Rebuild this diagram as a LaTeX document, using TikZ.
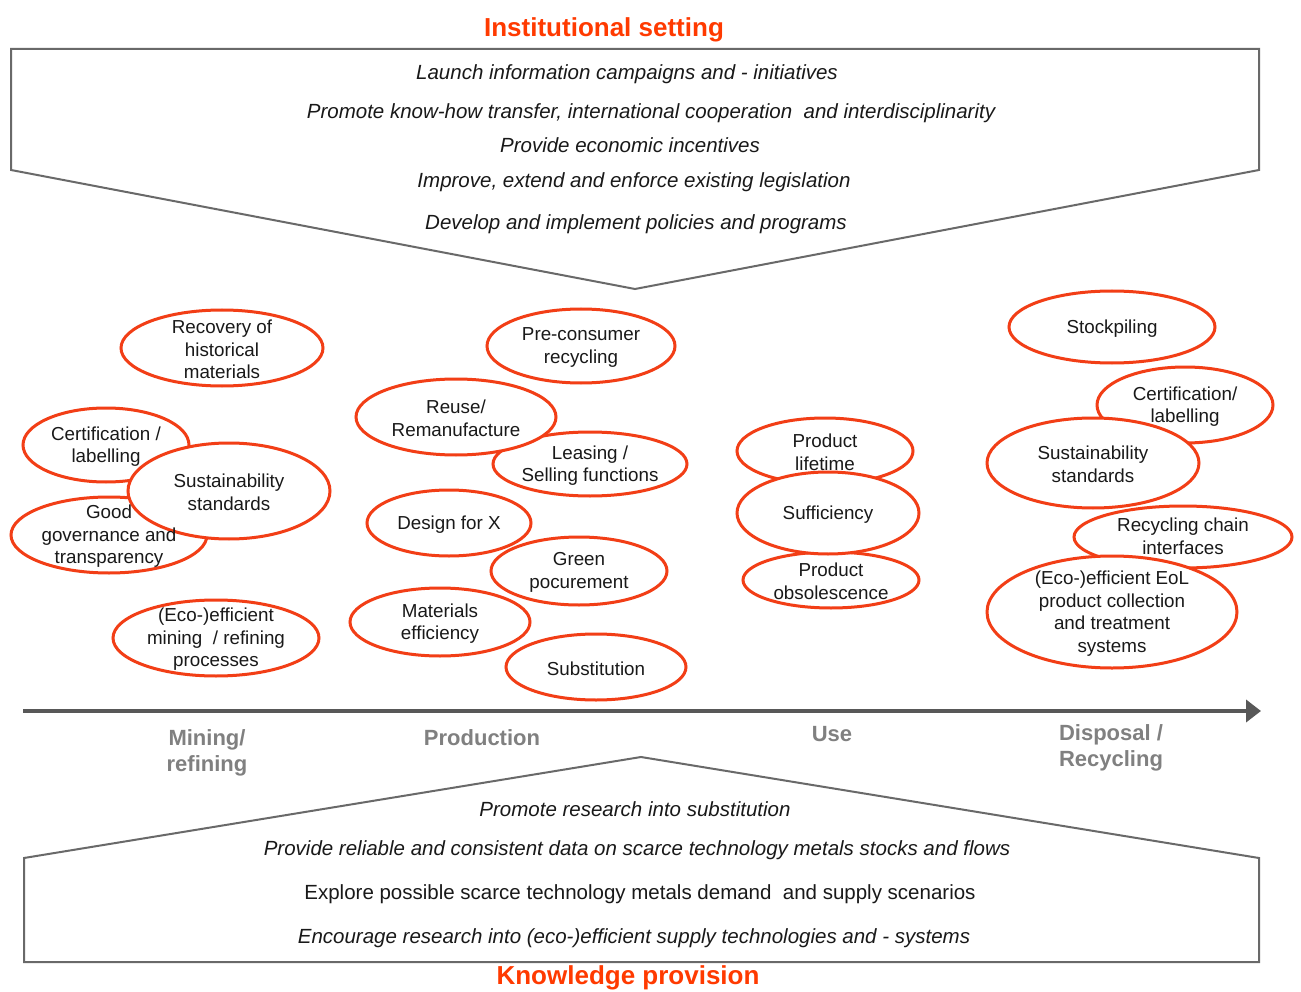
\documentclass[tikz,border=0pt]{standalone}
\usepackage{fontspec}
\setmainfont{Liberation Sans}
\usetikzlibrary{shapes.geometric,arrows.meta}
\definecolor{ored}{RGB}{242,62,22}
\definecolor{otitle}{RGB}{255,58,0}
\definecolor{gframe}{RGB}{105,105,105}
\definecolor{glabel}{RGB}{128,128,128}
\definecolor{garrow}{RGB}{88,88,88}
\begin{document}
\begin{tikzpicture}[x=1pt,y=-1pt,
  oval/.style={ellipse,draw=ored,line width=3pt,fill=white,inner sep=0pt},
  otext/.style={align=center,font=\fontsize{18.8}{22.5}\selectfont,inner sep=0pt,text=black!90,yshift=-1.5pt},
  ltext/.style={font=\fontsize{20.5}{24}\selectfont\itshape,inner sep=0pt,text=black!90},
  utext/.style={font=\fontsize{20.5}{24}\selectfont,inner sep=0pt,text=black!90},
  ttl/.style={font=\fontsize{26}{30}\selectfont\bfseries,text=otitle,inner sep=0pt},
  stage/.style={font=\fontsize{22}{26.5}\selectfont\bfseries,text=glabel,align=center,inner sep=0pt},
  frame/.style={draw=gframe,line width=2pt,line join=miter}]
\useasboundingbox (0,0) rectangle (1301,992);
\fill[white] (0,0) rectangle (1301,992);

% frames
\draw[frame] (11,49) -- (1259,49) -- (1259,170) -- (635,289) -- (11,170) -- cycle;
\draw[frame] (24,858) -- (641,757) -- (1259,858) -- (1259,962) -- (24,962) -- cycle;

% titles
\node[ttl] (tinst) at (604,30) {Institutional setting};
\node[ttl] (tknow) at (628,978) {Knowledge provision};

% top texts
\node[ltext] (i1) at (627,74) {Launch information campaigns and - initiatives};
\node[ltext] (i2) at (651,113) {Promote know-how transfer, international cooperation\ \ and interdisciplinarity};
\node[ltext] (i3) at (630,145) {Provide economic incentives};
\node[ltext] (i4) at (634,182) {Improve, extend and enforce existing legislation};
\node[ltext] (i5) at (636,224) {Develop and implement policies and programs};

% bottom texts
\node[ltext] (k1) at (635,809) {Promote research into substitution};
\node[ltext] (k2) at (637,850) {Provide reliable and consistent data on scarce technology metals stocks and flows};
\node[utext] (k3) at (640,894) {Explore possible scarce technology\ metals demand\ \ and supply\ scenarios};
\node[ltext] (k4) at (634,938) {Encourage research into (eco-)efficient supply technologies and - systems};

% axis
\coordinate (as) at (23,711);
\coordinate (ae) at (1261,711);
\draw[garrow,line width=4pt,-{Triangle[length=15pt,width=22pt]}] (as) -- (ae);

% stage labels
\node[stage] (smin) at (207,753) {Mining/\\refining};
\node[stage] (sprod) at (482,738) {Production};
\node[stage] (suse) at (832,734) {Use};
\node[stage] (sdisp) at (1111,748) {Disposal /\\Recycling};

% ellipses: mining
\node[oval,minimum width=202pt,minimum height=76pt] (rec) at (222,348) {};
\node[oval,minimum width=166pt,minimum height=74pt] (certl) at (106,445) {};
\node[oval,minimum width=196pt,minimum height=76pt] (gov) at (109,535) {};
\node[oval,minimum width=202pt,minimum height=96pt] (sustl) at (229,491) {};
\node[oval,minimum width=206pt,minimum height=76pt] (eco) at (216,638) {};
% production
\node[oval,minimum width=188pt,minimum height=74pt] (pre) at (581,346) {};
\node[oval,minimum width=194pt,minimum height=64pt] (lease) at (590,464) {};
\node[oval,minimum width=200pt,minimum height=76pt] (reuse) at (456,417) {};
\node[oval,minimum width=164pt,minimum height=66pt] (dfx) at (449,523) {};
\node[oval,minimum width=176pt,minimum height=68pt] (green) at (579,571) {};
\node[oval,minimum width=180pt,minimum height=68pt] (mateff) at (440,622) {};
\node[oval,minimum width=180pt,minimum height=66pt] (subst) at (596,667) {};
% use
\node[oval,minimum width=176pt,minimum height=66pt] (plife) at (825,451) {};
\node[oval,minimum width=176pt,minimum height=56pt] (pobs) at (831,580) {};
\node[oval,minimum width=182pt,minimum height=82pt] (suff) at (828,513) {};
% disposal
\node[oval,minimum width=206pt,minimum height=72pt] (stock) at (1112,327) {};
\node[oval,minimum width=176pt,minimum height=76pt] (certr) at (1185,405) {};
\node[oval,minimum width=212pt,minimum height=90pt] (sustr) at (1093,463) {};
\node[oval,minimum width=218pt,minimum height=62pt] (rcc) at (1183,537) {};
\node[oval,minimum width=250pt,minimum height=112pt] (eol) at (1112,612) {};

% ellipse texts
\node[otext] (trec) at (rec) {Recovery of\\historical\\materials};
\node[otext] (tcertl) at (certl) {Certification /\\labelling};
\node[otext] (tgov) at (gov) {Good\\governance and\\transparency};
\node[otext] (tsustl) at (sustl) {Sustainability\\standards};
\node[otext] (teco) at (eco) {(Eco-)efficient\\mining\ \ / refining\\processes};
\node[otext] (tpre) at (pre) {Pre-consumer\\recycling};
\node[otext] (treuse) at (reuse) {Reuse/\\Remanufacture};
\node[otext] (tlease) at (lease) {Leasing /\\Selling functions};
\node[otext] (tdfx) at (dfx) {Design for X};
\node[otext] (tgreen) at (green) {Green\\pocurement};
\node[otext] (tmateff) at (mateff) {Materials\\efficiency};
\node[otext] (tsubst) at (subst) {Substitution};
\node[otext] (tplife) at (plife) {Product\\lifetime};
\node[otext] (tsuff) at (suff) {Sufficiency};
\node[otext] (tpobs) at (pobs) {Product\\obsolescence};
\node[otext] (tstock) at (stock) {Stockpiling};
\node[otext] (tcertr) at (certr) {Certification/\\labelling};
\node[otext] (tsustr) at (sustr) {Sustainability\\standards};
\node[otext] (trcc) at ([yshift=2pt]rcc.center) {Recycling chain\\interfaces};
\node[otext] (teol) at (eol) {(Eco-)efficient EoL\\product collection\\and treatment\\systems};
\end{tikzpicture}
\end{document}
